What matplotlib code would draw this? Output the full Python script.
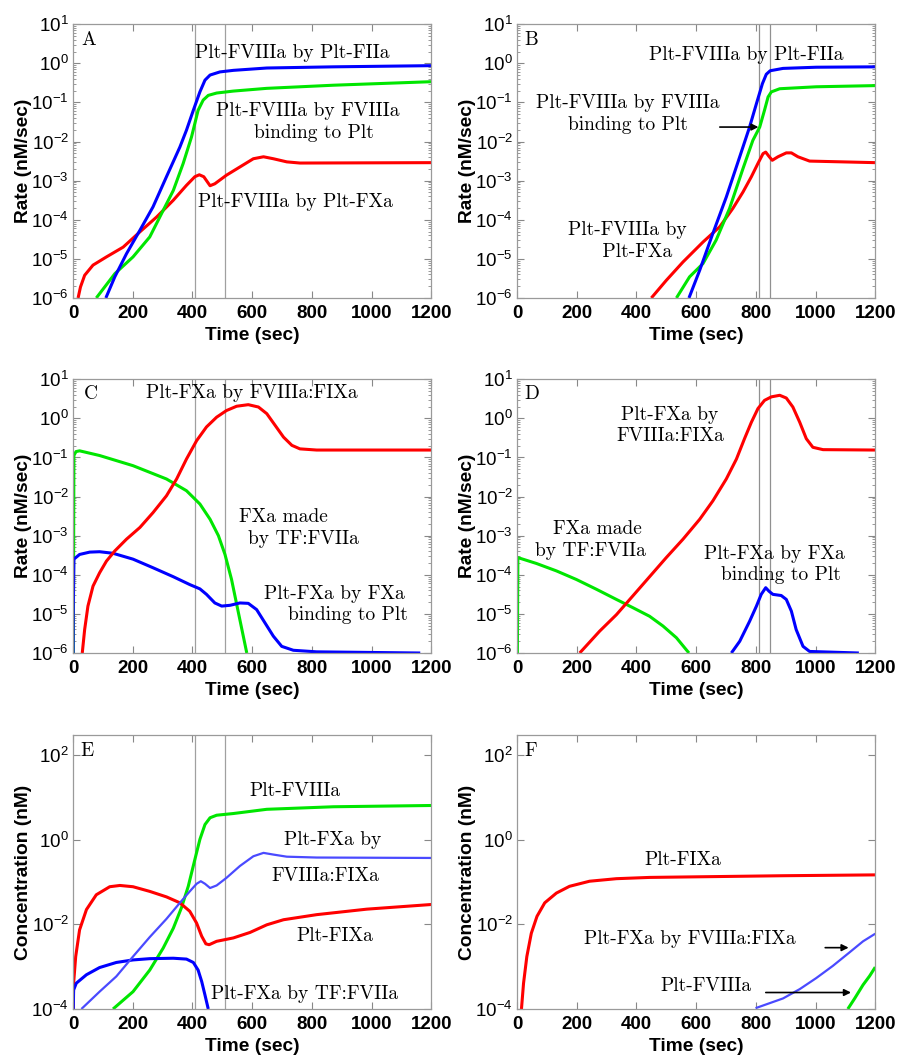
import numpy as np
import matplotlib
matplotlib.use("Agg")
import matplotlib.pyplot as plt
from matplotlib.ticker import LogLocator, LogFormatterMathtext, NullFormatter, FixedLocator

plt.rcParams["mathtext.fontset"] = "custom"
plt.rcParams["mathtext.rm"] = "Liberation Sans:bold"
plt.rcParams["mathtext.it"] = "Liberation Sans:bold"
plt.rcParams["mathtext.bf"] = "Liberation Sans:bold"
plt.rcParams["font.family"] = ["Liberation Sans", "DejaVu Sans"]

BLUE = "#0000ff"
GREEN = "#00e600"
RED = "#ff0000"
LBLUE = "#4a4aff"
TXT = "cmr10"

# ---- data: times (s) and log10 of values ----
# A
a_blue_t = [110, 140, 179, 224, 268, 313, 358, 380, 403, 425, 442, 459, 492, 537, 649, 872, 1200]
a_blue_y = [-6.0, -5.46, -4.87, -4.27, -3.67, -2.9, -2.14, -1.71, -1.2, -0.73, -0.43, -0.30, -0.22, -0.18, -0.12, -0.09, -0.06]
a_green_t = [78, 140, 201, 257, 302, 336, 369, 397, 419, 436, 453, 481, 537, 649, 872, 1200]
a_green_y = [-6.0, -5.38, -4.95, -4.44, -3.76, -3.25, -2.56, -1.88, -1.2, -0.94, -0.82, -0.76, -0.71, -0.64, -0.56, -0.47]
a_red_t = [17, 25, 39, 67, 112, 168, 224, 280, 336, 380, 408, 423, 438, 459, 475, 514, 559, 604, 638, 671, 716, 760, 1200]
a_red_y = [-6.0, -5.72, -5.42, -5.16, -4.95, -4.7, -4.31, -3.93, -3.5, -3.12, -2.9, -2.85, -2.9, -3.13, -3.08, -2.86, -2.65, -2.44, -2.39, -2.44, -2.52, -2.55, -2.54]

# B
b_blue_t = [576, 612, 656, 701, 746, 779, 802, 822, 835, 848, 891, 1002, 1200]
b_blue_y = [-6.0, -5.29, -4.35, -3.42, -2.39, -1.63, -1.03, -0.52, -0.28, -0.19, -0.13, -0.10, -0.09]
b_green_t = [534, 578, 623, 667, 712, 757, 790, 813, 829, 841, 852, 880, 1002, 1200]
b_green_y = [-6.0, -5.46, -5.12, -4.52, -3.71, -2.69, -1.97, -1.63, -1.2, -0.86, -0.73, -0.65, -0.6, -0.57]
b_red_t = [450, 500, 556, 623, 679, 723, 757, 785, 807, 824, 833, 844, 855, 874, 902, 919, 941, 980, 1200]
b_red_y = [-6.0, -5.55, -5.08, -4.57, -4.18, -3.71, -3.29, -2.9, -2.56, -2.31, -2.27, -2.38, -2.48, -2.39, -2.29, -2.29, -2.39, -2.5, -2.54]

# C
c_red_t = [31, 39, 50, 67, 89, 112, 140, 179, 224, 268, 313, 347, 380, 414, 447, 481, 514, 548, 587, 621, 649, 677, 705, 733, 760, 816, 1200]
c_red_y = [-6.0, -5.4, -4.8, -4.29, -3.95, -3.65, -3.39, -3.09, -2.79, -2.41, -1.98, -1.55, -1.04, -0.57, -0.22, 0.03, 0.2, 0.31, 0.35, 0.29, 0.12, -0.18, -0.48, -0.69, -0.78, -0.81, -0.81]
c_green_t = [1, 3, 10, 22, 89, 201, 313, 380, 425, 459, 487, 509, 531, 554, 582]
c_green_y = [-6.5, -0.95, -0.85, -0.83, -0.95, -1.21, -1.55, -1.85, -2.19, -2.58, -3.0, -3.48, -4.12, -4.97, -6.0]
c_blue_t = [0, 1, 3, 22, 56, 89, 134, 201, 268, 336, 391, 425, 447, 475, 498, 526, 559, 587, 615, 643, 671, 699, 738, 816, 1163]
c_blue_y = [-6.5, -4.85, -3.6, -3.48, -3.42, -3.41, -3.45, -3.6, -3.82, -4.05, -4.25, -4.36, -4.5, -4.72, -4.8, -4.78, -4.72, -4.73, -4.89, -5.23, -5.57, -5.83, -5.93, -5.97, -6.0]

# D
d_red_t = [210, 277, 333, 388, 444, 500, 556, 612, 656, 701, 735, 762, 785, 807, 829, 852, 880, 902, 924, 947, 969, 991, 1025, 1200]
d_red_y = [-6.0, -5.44, -5.02, -4.54, -4.05, -3.56, -3.09, -2.58, -2.11, -1.55, -1.04, -0.52, -0.1, 0.25, 0.46, 0.55, 0.59, 0.52, 0.29, -0.1, -0.52, -0.74, -0.8, -0.81]
d_green_t = [1, 3, 65, 132, 199, 266, 333, 388, 444, 489, 534, 576]
d_green_y = [-6.5, -3.56, -3.71, -3.9, -4.12, -4.37, -4.63, -4.84, -5.06, -5.31, -5.61, -6.0]
d_blue_t = [718, 746, 779, 802, 818, 833, 844, 857, 885, 902, 919, 935, 958, 980, 1145]
d_blue_y = [-6.0, -5.7, -5.19, -4.8, -4.5, -4.33, -4.42, -4.5, -4.53, -4.63, -4.93, -5.4, -5.83, -5.96, -6.0]

# E
e_green_t = [134, 201, 257, 302, 336, 363, 386, 408, 425, 442, 459, 481, 537, 649, 872, 1200]
e_green_y = [-4.0, -3.59, -3.08, -2.56, -2.09, -1.61, -1.1, -0.47, 0.01, 0.36, 0.52, 0.58, 0.62, 0.72, 0.78, 0.81]
e_red_t = [0, 2, 9, 22, 45, 78, 123, 157, 201, 257, 313, 358, 391, 414, 431, 445, 456, 481, 537, 593, 649, 705, 816, 984, 1200]
e_red_y = [-4.5, -3.39, -2.76, -2.13, -1.65, -1.3, -1.11, -1.08, -1.11, -1.22, -1.35, -1.49, -1.69, -1.97, -2.28, -2.46, -2.48, -2.4, -2.32, -2.19, -2.01, -1.89, -1.77, -1.64, -1.53]
e_blue_t = [0, 2, 11, 45, 89, 145, 201, 257, 336, 380, 403, 419, 431, 442, 453]
e_blue_y = [-4.5, -3.55, -3.39, -3.19, -3.02, -2.9, -2.84, -2.81, -2.8, -2.82, -2.9, -3.08, -3.35, -3.67, -4.0]
e_lblue_t = [28, 89, 145, 201, 257, 313, 358, 391, 414, 428, 442, 459, 481, 514, 559, 604, 638, 671, 716, 816, 1200]
e_lblue_y = [-4.0, -3.59, -3.23, -2.76, -2.3, -1.87, -1.49, -1.22, -1.04, -0.98, -1.04, -1.14, -1.08, -0.9, -0.62, -0.39, -0.31, -0.35, -0.4, -0.42, -0.43]

# F
f_red_t = [15, 22, 33, 48, 67, 93, 132, 176, 243, 333, 444, 668, 891, 1200]
f_red_y = [-4.0, -3.39, -2.76, -2.21, -1.81, -1.49, -1.26, -1.1, -0.98, -0.92, -0.89, -0.87, -0.85, -0.83]
f_blue_t = [799, 891, 947, 1002, 1058, 1114, 1159, 1200]
f_blue_y = [-3.98, -3.75, -3.53, -3.27, -2.98, -2.66, -2.4, -2.22]
f_green_t = [1108, 1131, 1159, 1181, 1200]
f_green_y = [-4.0, -3.75, -3.43, -3.22, -3.01]

early_marks = [410, 510]
late_marks = [810, 848]


def plot_curve(ax, t, y, color, lw=2.2):
    ax.plot(t, 10.0 ** np.array(y), color=color, lw=lw,
            solid_joinstyle="round", solid_capstyle="butt")


def setup(ax, ylabel, ylim, yticks, minor=True):
    ax.set_yscale("log")
    ax.set_xlim(0, 1200)
    ax.set_ylim(*ylim)
    ax.set_xticks([0, 200, 400, 600, 800, 1000, 1200])
    ax.yaxis.set_major_locator(FixedLocator(yticks))
    ax.yaxis.set_major_formatter(LogFormatterMathtext())
    if minor:
        ax.yaxis.set_minor_locator(LogLocator(base=10, subs=np.arange(2, 10), numticks=20))
    else:
        ax.yaxis.set_minor_locator(FixedLocator([]))
    ax.yaxis.set_minor_formatter(NullFormatter())
    ax.tick_params(which="both", direction="in", top=True, right=True, colors="#888888",
                   labelcolor="black", labelsize=13.5)
    ax.tick_params(which="major", length=5, width=0.8)
    ax.tick_params(which="minor", length=2.5, width=0.6)
    ax.tick_params(axis="x", pad=5)
    ax.tick_params(axis="y", pad=3)
    for lab in ax.get_xticklabels():
        lab.set_fontweight("bold")
    for sp in ax.spines.values():
        sp.set_color("#9a9a9a")
        sp.set_linewidth(0.9)
    ax.set_xlabel("Time (sec)", fontsize=13.8, fontweight="bold")
    ax.set_ylabel(ylabel, fontsize=13.8, fontweight="bold")
    ax.xaxis.set_label_coords(0.5, -0.105)
    ax.yaxis.set_label_coords(-0.115, 0.5)


def vmarks(ax, xs, color="#a0a0a0"):
    for x in xs:
        ax.axvline(x, color=color, lw=0.9, zorder=0)


def note(ax, x, y, s, **kw):
    ax.text(x, 10.0 ** y, s, fontfamily=TXT, fontsize=14, ha="center", va="center", **kw)


def letter(ax, x, y, s):
    ax.text(x, 10.0 ** y, s, fontfamily=TXT, fontsize=14, ha="left", va="center")


fig = plt.figure(figsize=(8.98, 10.57), dpi=100)
w = 0.399
h = 0.259
axA = fig.add_axes([0.0813, 0.7181, w, h])
axB = fig.add_axes([0.5757, 0.7181, w, h])
axC = fig.add_axes([0.0813, 0.3822, w, h])
axD = fig.add_axes([0.5757, 0.3822, w, h])
axE = fig.add_axes([0.0813, 0.0454, w, h])
axF = fig.add_axes([0.5757, 0.0454, w, h])

rate_ticks = [1e-6, 1e-5, 1e-4, 1e-3, 1e-2, 1e-1, 1e0, 1e1]
conc_ticks = [1e-4, 1e-2, 1e0, 1e2]
arrow = dict(arrowstyle="-|>", color="black", lw=1.2, mutation_scale=10)

# A
setup(axA, "Rate (nM/sec)", (1e-6, 1e1), rate_ticks)
vmarks(axA, early_marks)
plot_curve(axA, a_red_t, a_red_y, RED)
plot_curve(axA, a_green_t, a_green_y, GREEN)
plot_curve(axA, a_blue_t, a_blue_y, BLUE)
letter(axA, 28, 0.59, "A")
note(axA, 733, 0.27, "Plt-FVIIIa by Plt-FIIa")
note(axA, 785, -1.5, "Plt-FVIIIa by FVIIIa\n  binding to Plt", linespacing=1.25)
note(axA, 744, -3.54, "Plt-FVIIIa by Plt-FXa")

# B
setup(axB, "Rate (nM/sec)", (1e-6, 1e1), rate_ticks)
vmarks(axB, late_marks, color="#909090")
plot_curve(axB, b_red_t, b_red_y, RED)
plot_curve(axB, b_green_t, b_green_y, GREEN)
plot_curve(axB, b_blue_t, b_blue_y, BLUE)
letter(axB, 25, 0.59, "B")
note(axB, 768, 0.21, "Plt-FVIIIa by Plt-FIIa")
note(axB, 372, -1.3, "Plt-FVIIIa by FVIIIa\nbinding to Plt", linespacing=1.25)
note(axB, 370, -4.54, "Plt-FVIIIa by\n   Plt-FXa", linespacing=1.25)
axB.annotate("", xy=(818, 10 ** -1.63), xytext=(670, 10 ** -1.63), arrowprops=arrow)

# C
setup(axC, "Rate (nM/sec)", (1e-6, 1e1), rate_ticks)
vmarks(axC, early_marks)
plot_curve(axC, c_green_t, c_green_y, GREEN)
plot_curve(axC, c_blue_t, c_blue_y, BLUE)
plot_curve(axC, c_red_t, c_red_y, RED)
letter(axC, 38, 0.63, "C")
note(axC, 598, 0.66, "Plt-FXa by FVIIIa:FIXa")
note(axC, 705, -2.81, "FXa made\n      by TF:FVIIa", linespacing=1.25)
note(axC, 877, -4.76, "Plt-FXa by FXa\n    binding to Plt", linespacing=1.25)

# D
setup(axD, "Rate (nM/sec)", (1e-6, 1e1), rate_ticks)
vmarks(axD, late_marks, color="#909090")
plot_curve(axD, d_green_t, d_green_y, GREEN)
plot_curve(axD, d_red_t, d_red_y, RED)
plot_curve(axD, d_blue_t, d_blue_y, BLUE)
letter(axD, 25, 0.63, "D")
note(axD, 512, -0.19, "Plt-FXa by\nFVIIIa:FIXa", linespacing=1.25)
note(axD, 246, -3.11, "  FXa made\nby TF:FVIIa", linespacing=1.25)
note(axD, 863, -3.74, "Plt-FXa by FXa\n  binding to Plt", linespacing=1.25)

# E
setup(axE, "Concentration (nM)", (1e-4, 10 ** 2.47), conc_ticks, minor=False)
vmarks(axE, early_marks)
plot_curve(axE, e_green_t, e_green_y, GREEN)
plot_curve(axE, e_red_t, e_red_y, RED)
plot_curve(axE, e_blue_t, e_blue_y, BLUE)
plot_curve(axE, e_lblue_t, e_lblue_y, LBLUE, lw=1.6)
letter(axE, 25, 2.1, "E")
note(axE, 744, 1.15, "Plt-FVIIIa")
note(axE, 870, 0.0, "Plt-FXa by")
note(axE, 844, -0.85, "FVIIIa:FIXa")
note(axE, 876, -2.28, "Plt-FIXa")
note(axE, 774, -3.64, "Plt-FXa by TF:FVIIa")

# F
setup(axF, "Concentration (nM)", (1e-4, 10 ** 2.47), conc_ticks, minor=False)
plot_curve(axF, f_red_t, f_red_y, RED)
plot_curve(axF, f_blue_t, f_blue_y, LBLUE, lw=1.6)
plot_curve(axF, f_green_t, f_green_y, GREEN)
letter(axF, 25, 2.1, "F")
note(axF, 554, -0.47, "Plt-FIXa")
note(axF, 580, -2.35, "Plt-FXa by FVIIIa:FIXa")
note(axF, 634, -3.45, "Plt-FVIIIa")
axF.annotate("", xy=(1120, 10 ** -2.55), xytext=(1023, 10 ** -2.55), arrowprops=arrow)
axF.annotate("", xy=(1128, 10 ** -3.61), xytext=(824, 10 ** -3.61), arrowprops=arrow)

fig.savefig("out.png", dpi=100)
